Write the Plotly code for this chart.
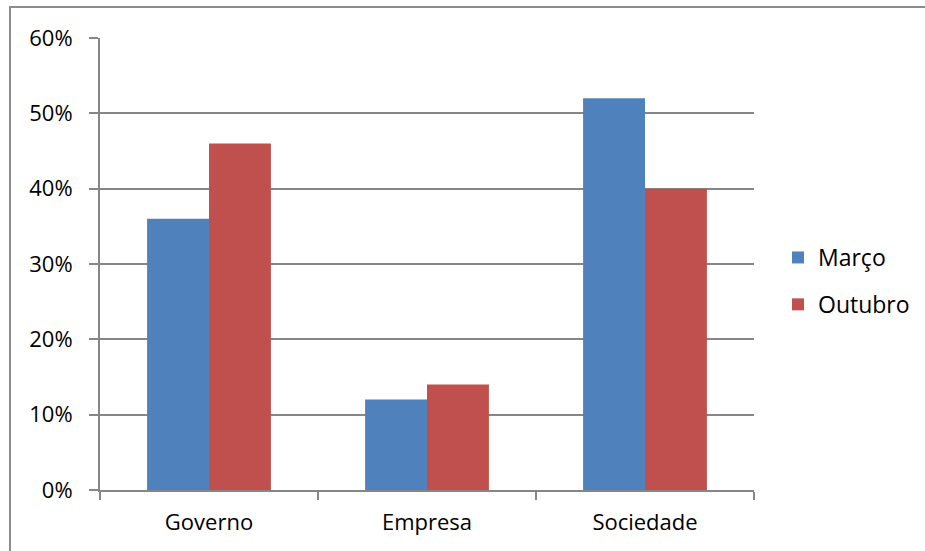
import plotly.graph_objects as go

categories = ["Governo", "Empresa", "Sociedade"]
marco = [0.36, 0.12, 0.52]
outubro = [0.46, 0.14, 0.40]
tick_vals = [0, 0.1, 0.2, 0.3, 0.4, 0.5, 0.6]
tick_text = ["0%", "10%", "20%", "30%", "40%", "50%", "60%"]

W, H = 925, 551
L, R, T, B = 100, 171, 38, 61
pw, ph = W - L - R, H - T - B

font = dict(family="Open Sans, Noto Sans, sans-serif", size=22, color="#000000")

fig = go.Figure()
fig.add_trace(go.Bar(x=categories, y=marco, name="Março", marker_color="#4F81BD",
                     marker_line_width=0, legendgroup="a"))
fig.add_trace(go.Bar(x=categories, y=outubro, name="Outubro", marker_color="#C0504D",
                     marker_line_width=0, legendgroup="b"))

# outer chart frame (runs off the right and bottom edges)
fig.add_shape(type="rect", xref="paper", yref="paper",
              x0=(10 - L) / pw, x1=(W + 20 - L) / pw,
              y0=-(H + 20 - T - ph) / ph, y1=(H - 7 - B) / ph,
              line=dict(color="#8C8C8C", width=2), fillcolor="rgba(0,0,0,0)")

fig.update_layout(
    width=W, height=H,
    margin=dict(l=L, r=R, t=T, b=B, autoexpand=False),
    paper_bgcolor="white", plot_bgcolor="white",
    font=font,
    barmode="group", bargap=0.432, bargroupgap=0,
    showlegend=True,
    legend=dict(x=(778 - L) / pw, y=(H - B - 236) / ph, xanchor="left", yanchor="top",
                font=dict(size=23), tracegroupgap=14, itemwidth=30,
                bgcolor="rgba(0,0,0,0)"),
    xaxis=dict(type="category", tickson="boundaries", ticks="outside", ticklen=8,
               tickcolor="#868686", tickwidth=2, showline=True, linecolor="#868686",
               linewidth=2, showgrid=False, tickfont=dict(size=22),
               ticklabelstandoff=12),
    yaxis=dict(range=[0, 0.6], tickvals=tick_vals, ticktext=tick_text,
               ticks="outside", ticklen=9, tickcolor="#868686", tickwidth=2,
               showline=True, linecolor="#868686", linewidth=2,
               showgrid=True, gridcolor="#868686", gridwidth=1.5,
               zeroline=False, tickfont=dict(size=22), ticklabelstandoff=12),
)

fig.write_html("out.html")
